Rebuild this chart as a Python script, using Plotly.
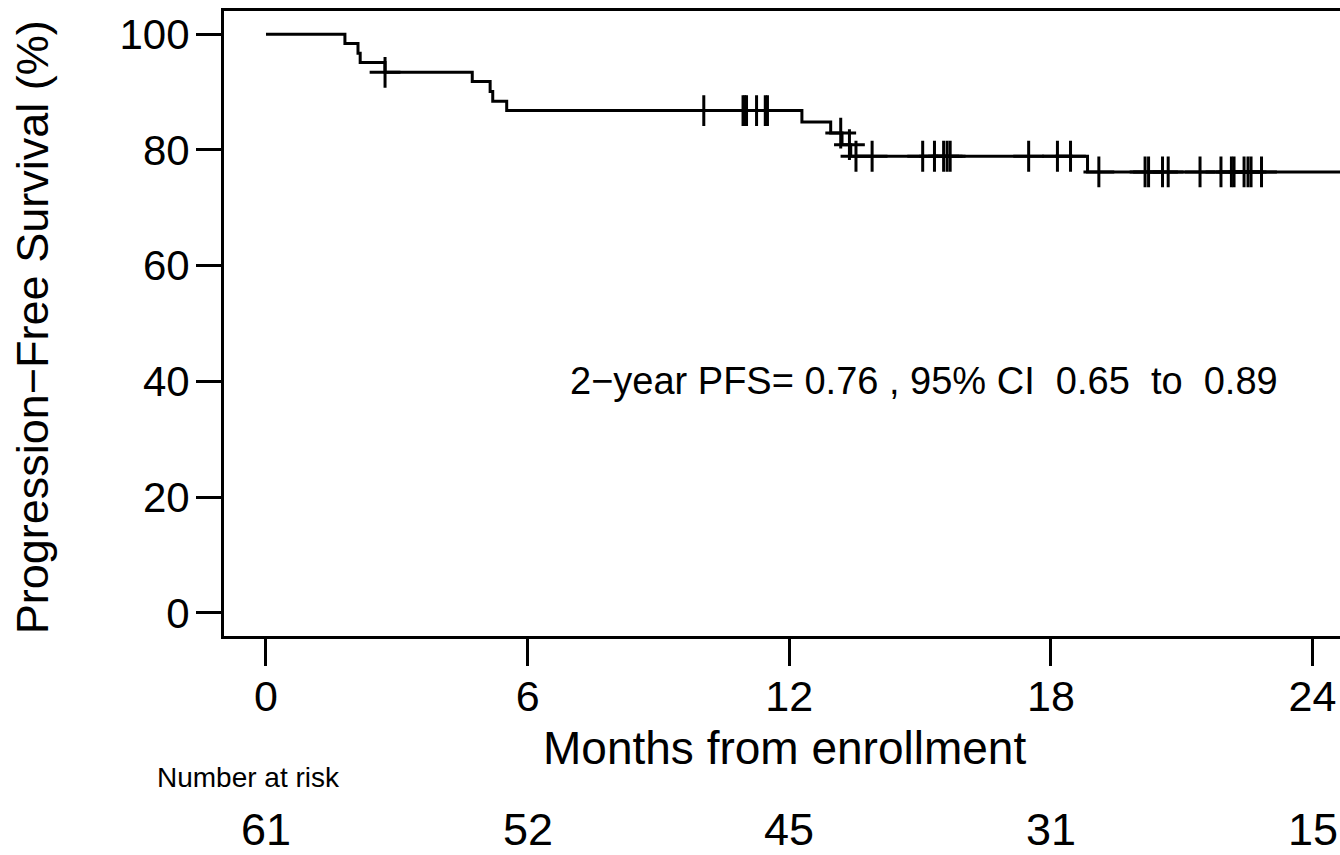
import numpy as np
import plotly.graph_objects as go

# Kaplan-Meier step data (months, PFS %)
step_months = [0, 1.81, 2.11, 2.16, 2.73, 4.73, 5.14, 5.20, 5.52, 12.29, 12.95, 13.21, 13.41, 18.84]
step_pfs = [100, 98.4, 96.7, 95.1, 93.4, 91.8, 90.1, 88.4, 86.8, 84.8, 82.9, 80.9, 78.9, 76.2]
curve_end = 25.1

# censoring times (months)
censor_months = [2.73,
                 10.04, 10.94, 10.98, 11.02, 11.25, 11.45, 11.50,
                 13.18, 13.38, 13.53, 13.90,
                 15.06, 15.33, 15.54, 15.62, 15.69, 17.49,
                 18.15, 18.45,
                 19.10, 20.16, 20.24, 20.56, 20.69, 21.42, 21.90, 22.14, 22.20,
                 22.43, 22.52, 22.59, 22.83]

x_ticks = [0, 6, 12, 18, 24]
y_ticks = [0, 20, 40, 60, 80, 100]
at_risk = [61, 52, 45, 31, 15]

annot_text = "2\u2212year PFS= 0.76 , 95% CI\u00a0\u00a00.65\u00a0\u00a0to\u00a0\u00a00.89"

FONT = "Liberation Sans, Arial, sans-serif"

sm = np.array(step_months)
sp = np.array(step_pfs)
idx = np.searchsorted(sm, np.array(censor_months), side="right") - 1
censor_pfs = sp[idx]

fig = go.Figure()
fig.add_trace(go.Scatter(
    x=list(step_months) + [curve_end], y=list(step_pfs) + [step_pfs[-1]],
    mode="lines", line=dict(shape="hv", color="black", width=3),
    showlegend=False, hoverinfo="skip"))
fig.add_trace(go.Scatter(
    x=censor_months, y=censor_pfs, mode="markers",
    marker=dict(symbol="cross-thin", size=22, color="black",
                line=dict(width=3, color="black")),
    showlegend=False, cliponaxis=True))

annotations = [
    dict(x=15.1, y=40, xref="x", yref="y", text=annot_text, showarrow=False,
         font=dict(family=FONT, size=38, color="black"), xanchor="center", yanchor="middle"),
    dict(x=-0.172, y=0.494, xref="paper", yref="paper", text="Progression\u2212Free Survival (%)",
         showarrow=False, textangle=-90, font=dict(family=FONT, size=45, color="black"),
         xanchor="center", yanchor="middle"),
    dict(x=11.9, y=-0.179, xref="x", yref="paper", text="Months from enrollment",
         showarrow=False, font=dict(family=FONT, size=46, color="black"),
         xanchor="center", yanchor="middle"),
    dict(x=-0.0618, y=-0.227, xref="paper", yref="paper", text="Number at risk",
         showarrow=False, font=dict(family=FONT, size=28, color="black"),
         xanchor="left", yanchor="middle"),
]
for m, n in zip(x_ticks, at_risk):
    annotations.append(dict(x=m, y=-0.31, xref="x", yref="paper", text=str(n),
                            showarrow=False, font=dict(family=FONT, size=45, color="black"),
                            xanchor="center", yanchor="middle"))

fig.update_layout(
    width=1340, height=855,
    margin=dict(l=224, r=0, t=11, b=219),
    paper_bgcolor="white", plot_bgcolor="white",
    annotations=annotations,
    xaxis=dict(range=[-0.963, 24.63], tickvals=x_ticks, ticktext=[str(v) for v in x_ticks],
               ticks="outside", ticklen=27, tickwidth=2.5, tickcolor="black",
               showline=True, linecolor="black", linewidth=3, mirror=True,
               showgrid=False, zeroline=False, ticklabelstandoff=-7,
               tickfont=dict(family=FONT, size=43, color="black")),
    yaxis=dict(range=[-4, 104], tickvals=y_ticks, ticktext=[str(v) for v in y_ticks],
               ticks="outside", ticklen=25, tickwidth=2.5, tickcolor="black",
               showline=True, linecolor="black", linewidth=3, mirror=False,
               showgrid=False, zeroline=False, ticklabelstandoff=-2,
               tickfont=dict(family=FONT, size=42, color="black")),
)

# remove the page's default body margin so the figure fills the window exactly
fig.write_html("out.html",
               config={"displayModeBar": False},
               post_script="document.body.style.margin='0px';"
                           "document.documentElement.style.overflow='hidden';")
